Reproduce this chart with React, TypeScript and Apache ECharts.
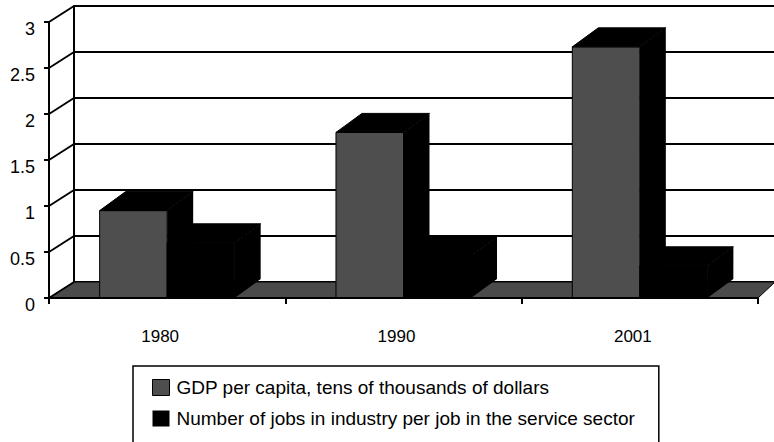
import React, { useEffect, useRef } from "react";
import * as echarts from "echarts";

const categories = ["1980", "1990", "2001"];
const gdpValues = [0.95, 1.8, 2.73];
const jobsValues = [0.6, 0.46, 0.35];
const yTicks = [0, 0.5, 1, 1.5, 2, 2.5, 3];
const seriesNames = [
  "GDP per capita, tens of thousands of dollars",
  "Number of jobs in industry per job in the service sector",
];

const FONT = "'Liberation Sans', Arial, sans-serif";
const BAR_DX = 26;
const BAR_DY = 19;
const WALL_DX = 25;
const WALL_DY = 16;
const WALL_DX_RIGHT = 17;
const BAR_RATIO = 0.2857;
const GRAY = "#4e4e4e";

function makeBarRender(side: "left" | "right", frontColor: string) {
  return (params: any, api: any) => {
    const cat = api.value(0);
    const v = api.value(1);
    const top = api.coord([cat, v]);
    const base = api.coord([cat, 0]);
    const band = api.size([1, 0])[0];
    const bw = band * BAR_RATIO;
    const x0 = side === "left" ? top[0] - bw : top[0];
    const x1 = x0 + bw;
    const yt = top[1];
    const yb = base[1];
    return {
      type: "group",
      children: [
        {
          type: "polygon",
          shape: { points: [[x1, yt], [x1 + BAR_DX, yt - BAR_DY], [x1 + BAR_DX, yb - BAR_DY], [x1, yb]] },
          style: { fill: "#000" },
        },
        {
          type: "rect",
          shape: { x: x0, y: yt, width: bw, height: yb - yt },
          style: { fill: frontColor, stroke: "#000", lineWidth: 1 },
        },
        {
          type: "polygon",
          shape: { points: [[x0, yt], [x1, yt], [x1 + BAR_DX, yt - BAR_DY], [x0 + BAR_DX, yt - BAR_DY]] },
          style: { fill: "#000", stroke: "#000", lineWidth: 1 },
        },
      ],
    };
  };
}

export default function App() {
  const ref = useRef<HTMLDivElement>(null);
  useEffect(() => {
    if (!ref.current) return;
    const chart = echarts.init(ref.current, undefined, { renderer: "svg" });
    const option: any = {
      animation: false,
      backgroundColor: "#fff",
      grid: [
        { left: 74, top: 6, width: 701, height: 276 },
        { left: 49, top: 22, width: 709, height: 276 },
      ],
      xAxis: [
        { gridIndex: 0, type: "category", data: categories, show: false },
        {
          gridIndex: 1,
          type: "category",
          data: categories,
          z: 5,
          axisLine: { lineStyle: { color: "#000", width: 2 } },
          axisTick: { show: true, interval: 0, length: 6, lineStyle: { color: "#000", width: 2 } },
          axisLabel: {
            color: "#000",
            fontSize: 17,
            fontFamily: FONT,
            margin: 30,
            padding: [0, 14, 0, 0],
          },
          splitLine: { show: false },
        },
      ],
      yAxis: [
        {
          gridIndex: 0,
          type: "value",
          min: 0,
          max: 3,
          interval: 0.5,
          axisLine: { show: true, lineStyle: { color: "#000", width: 2 } },
          axisTick: { show: false },
          axisLabel: { show: false },
          splitLine: { show: true, lineStyle: { color: "#000", width: 2 } },
        },
        {
          gridIndex: 1,
          type: "value",
          min: 0,
          max: 3,
          interval: 0.5,
          z: 5,
          axisLine: { show: true, lineStyle: { color: "#000", width: 2 } },
          axisTick: { show: true, length: 5, lineStyle: { color: "#000", width: 2 } },
          axisLabel: {
            color: "#000",
            fontSize: 18,
            fontFamily: FONT,
            margin: 14,
            verticalAlign: "top",
            lineHeight: 14,
          },
          splitLine: { show: false },
        },
      ],
      legend: {
        orient: "vertical",
        left: 133,
        top: 366,
        height: 140,
        padding: [12, 24, 40, 19],
        itemGap: 12,
        itemWidth: 17,
        itemHeight: 16,
        borderColor: "#000",
        borderWidth: 1.5,
        selectedMode: false,
        textStyle: { fontSize: 19, fontFamily: FONT, color: "#000", padding: [0, 0, 0, 2] },
        data: [
          { name: seriesNames[0], icon: "rect", itemStyle: { color: GRAY, borderColor: "#000", borderWidth: 1 } },
          { name: seriesNames[1], icon: "rect", itemStyle: { color: "#000" } },
        ],
      },
      series: [
        {
          type: "custom",
          name: "floor",
          xAxisIndex: 1,
          yAxisIndex: 1,
          silent: true,
          data: [[0, 0]],
          renderItem: (params: any, api: any) => {
            const cs = params.coordSys;
            const yb = cs.y + cs.height;
            const xl = cs.x;
            const xr = cs.x + cs.width;
            return {
              type: "polygon",
              shape: {
                points: [
                  [xl, yb],
                  [xr, yb],
                  [xr + WALL_DX_RIGHT, yb - WALL_DY],
                  [xl + WALL_DX, yb - WALL_DY],
                ],
              },
              style: { fill: "#4a4a4a", stroke: "#000", lineWidth: 1 },
            };
          },
        },
        {
          type: "custom",
          name: "wall",
          xAxisIndex: 1,
          yAxisIndex: 1,
          silent: true,
          data: yTicks.map((v) => [0, v]),
          renderItem: (params: any, api: any) => {
            const cs = params.coordSys;
            const p = api.coord([0, api.value(1)]);
            const x = cs.x;
            return {
              type: "line",
              shape: { x1: x, y1: p[1], x2: x + WALL_DX, y2: p[1] - WALL_DY },
              style: { stroke: "#000", lineWidth: 2 },
            };
          },
        },
        {
          type: "custom",
          name: seriesNames[0],
          xAxisIndex: 1,
          yAxisIndex: 1,
          itemStyle: { color: GRAY },
          data: gdpValues.map((v, i) => [i, v]),
          encode: { x: 0, y: 1 },
          renderItem: makeBarRender("left", GRAY),
        },
        {
          type: "custom",
          name: seriesNames[1],
          xAxisIndex: 1,
          yAxisIndex: 1,
          itemStyle: { color: "#000" },
          data: jobsValues.map((v, i) => [i, v]),
          encode: { x: 0, y: 1 },
          renderItem: makeBarRender("right", "#000"),
        },
      ],
    };
    chart.setOption(option);
    return () => chart.dispose();
  }, []);
  return (
    <div
      ref={ref}
      style={{ position: "absolute", left: 0, top: 0, width: 774, height: 442 }}
    />
  );
}
